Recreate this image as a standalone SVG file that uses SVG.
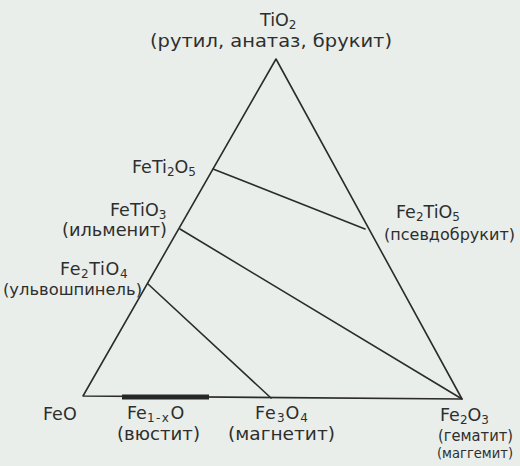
<svg xmlns="http://www.w3.org/2000/svg" width="520" height="466" viewBox="0 0 520 466">
<style>
.bg{fill:#e9eeea}
.ln{stroke:#2b2b2b;stroke-width:1.6;fill:none;stroke-linecap:round;stroke-linejoin:round}
.bar{stroke:#262626;stroke-width:5;stroke-linecap:butt}
text{font-family:"DejaVu Sans","Liberation Sans",sans-serif;font-size:17.5px;fill:#2e2e2e}
.p{font-size:17px}
.q{font-size:15.5px}
.r{font-size:14px}
.sub{font-size:12px}
</style>
<rect class="bg" x="0" y="0" width="520" height="466"/>
<g id="connectors">
<path class="ln" d="M83,396 L276,59 L462,399 Z"/>
<line class="ln" x1="213" y1="169" x2="365" y2="229"/>
<line class="ln" x1="180" y1="229" x2="462" y2="399"/>
<line class="ln" x1="148" y1="284" x2="271" y2="398"/>
<line class="bar" x1="122" y1="397" x2="209" y2="397"/>
</g>
<g id="tio2">
<text x="260" y="26">TiO<tspan class="sub" dy="3">2</tspan></text>
<text class="p" x="150" y="47" textLength="242" lengthAdjust="spacingAndGlyphs">(рутил, анатаз, брукит)</text>
</g>
<g id="feti2o5">
<text x="132" y="173">FeTi<tspan class="sub" dy="3">2</tspan><tspan dy="-3">O</tspan><tspan class="sub" dy="3">5</tspan></text>
</g>
<g id="fetio3">
<text x="110" y="216">FeTiO<tspan class="sub" dy="3">3</tspan></text>
<text class="p" x="62" y="236" textLength="105" lengthAdjust="spacingAndGlyphs">(ильменит)</text>
</g>
<g id="fe2tio4">
<text x="60" y="275" letter-spacing="0.6">Fe<tspan class="sub" dy="3">2</tspan><tspan dy="-3">TiO</tspan><tspan class="sub" dy="3">4</tspan></text>
<text class="p" x="3" y="295" style="font-size:16px" textLength="139" lengthAdjust="spacingAndGlyphs">(ульвошпинель)</text>
</g>
<g id="fe2tio5">
<text x="396" y="218">Fe<tspan class="sub" dy="3">2</tspan><tspan dy="-3">TiO</tspan><tspan class="sub" dy="3">5</tspan></text>
<text class="q" x="384" y="240" textLength="131" lengthAdjust="spacingAndGlyphs">(псевдобрукит)</text>
</g>
<g id="feo">
<text x="43" y="420">FeO</text>
</g>
<g id="fe1xo">
<text x="127" y="419">Fe<tspan class="sub" dy="3" letter-spacing="1.5">1-x</tspan><tspan dy="-3">O</tspan></text>
<text class="p" x="117" y="440" textLength="83" lengthAdjust="spacingAndGlyphs">(вюстит)</text>
</g>
<g id="fe3o4">
<text x="255" y="419" letter-spacing="1">Fe<tspan class="sub" dy="3">3</tspan><tspan dy="-3">O</tspan><tspan class="sub" dy="3">4</tspan></text>
<text class="p" x="228" y="440" textLength="107" lengthAdjust="spacingAndGlyphs">(магнетит)</text>
</g>
<g id="fe2o3">
<text x="440" y="421">Fe<tspan class="sub" dy="3">2</tspan><tspan dy="-3">O</tspan><tspan class="sub" dy="3">3</tspan></text>
<text class="q" x="438" y="441" textLength="75" lengthAdjust="spacingAndGlyphs">(гематит)</text>
<text class="r" x="437" y="458" textLength="76" lengthAdjust="spacingAndGlyphs">(маггемит)</text>
</g>
</svg>
